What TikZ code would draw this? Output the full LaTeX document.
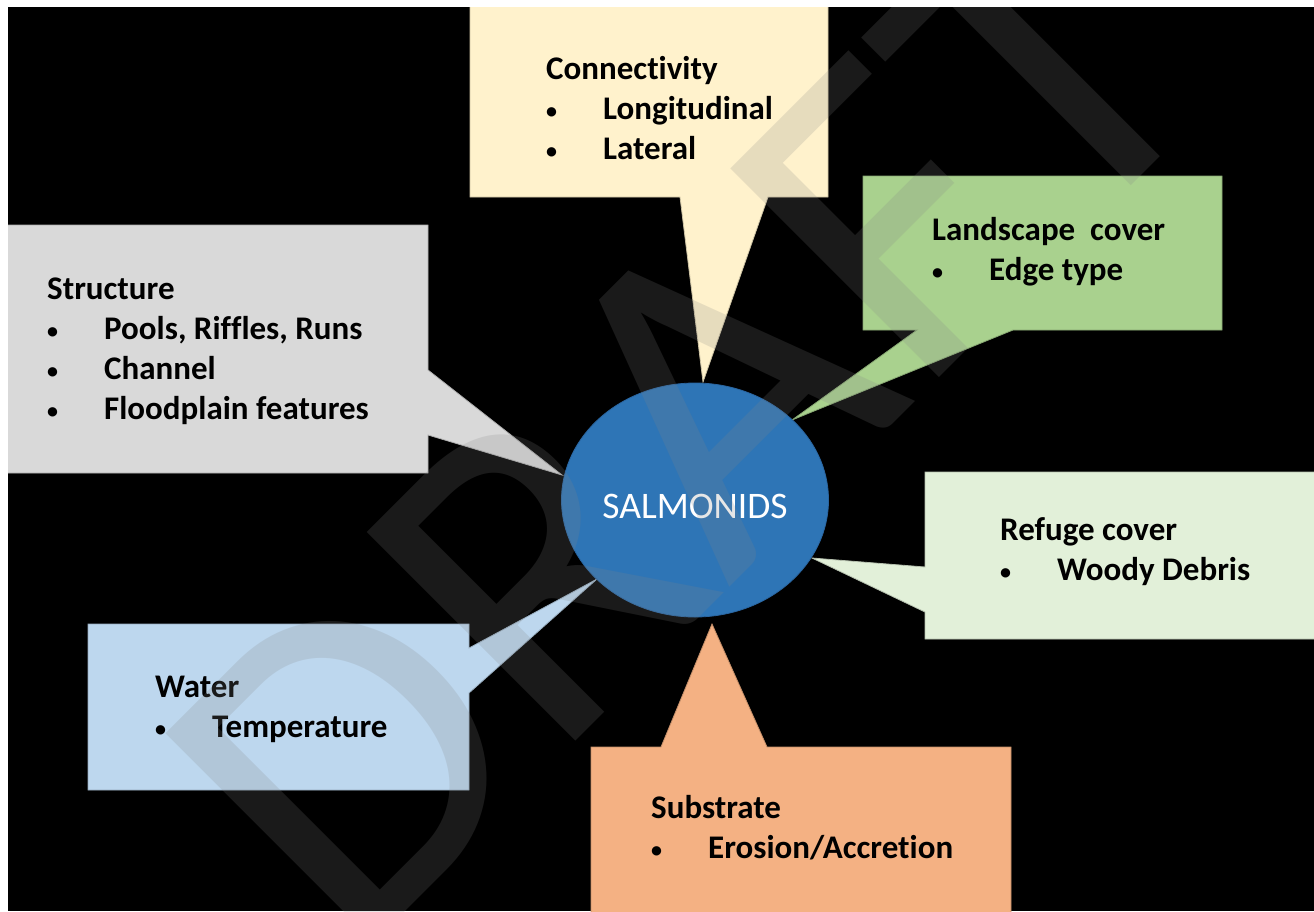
\documentclass[tikz,border=0pt]{standalone}
\usepackage{fontspec}
\setmainfont{Carlito}[Ligatures=NoCommon]
\usetikzlibrary{shapes.geometric}
\definecolor{cyellow}{HTML}{FFF2CC}
\definecolor{cgreen}{HTML}{A9D18E}
\definecolor{cgray}{HTML}{D9D9D9}
\definecolor{cpale}{HTML}{E2F0D9}
\definecolor{cblue}{HTML}{BDD7EE}
\definecolor{corange}{HTML}{F4B183}
\definecolor{csal}{HTML}{2E75B6}
\definecolor{csalb}{HTML}{2A65A0}
\definecolor{wmgray}{RGB}{132,132,132}
\newcommand{\mybul}[1]{\makebox[57pt][l]{\raisebox{1pt}{\fontsize{22}{22}\selectfont\textbullet}}#1}
\tikzset{
  callout/.style={line width=0.8pt, line join=miter},
  lbl/.style={anchor=north west, inner sep=0pt, align=left, text=black,
    font=\bfseries\fontsize{33}{40}\selectfont},
}
\begin{document}
\begin{tikzpicture}[x=1pt,y=-1pt]
\useasboundingbox (0,0) rectangle (1314,911);
\fill[white] (0,0) rectangle (1314,911);
\fill[black] (8,7) rectangle (1314,911);
\begin{scope}
\clip (8,7) rectangle (1314,911);
% tips of the callouts
\coordinate (tC) at (703,382);
\coordinate (tL) at (792,420);
\coordinate (tS) at (562,475);
\coordinate (tR) at (812,558);
\coordinate (tW) at (597,579);
\coordinate (tB) at (712,624);
% callout shapes
\filldraw[callout, fill=cyellow, draw=cyellow!80!black] (470,0) -- (828,0) -- (828,197) -- (768,197) -- (tC) -- (680,197) -- (470,197) -- cycle;
\filldraw[callout, fill=cgreen, draw=cgreen!80!black] (863,176) -- (1222,176) -- (1222,330) -- (1013,330) -- (tL) -- (917,330) -- (863,330) -- cycle;
\filldraw[callout, fill=cgray, draw=cgray!80!black] (0,225) -- (428,225) -- (428,370) -- (tS) -- (428,435) -- (428,473) -- (0,473) -- cycle;
\filldraw[callout, fill=cpale, draw=cpale!80!black] (925,472) -- (1330,472) -- (1330,639) -- (925,639) -- (925,612) -- (tR) -- (925,567) -- cycle;
\filldraw[callout, fill=cblue, draw=cblue!80!black] (88,624) -- (469,624) -- (469,648) -- (tW) -- (469,693) -- (469,790) -- (88,790) -- cycle;
\filldraw[callout, fill=corange, draw=corange!80!black] (591,747) -- (661,747) -- (tB) -- (767,747) -- (1011,747) -- (1011,930) -- (591,930) -- cycle;
% central ellipse
\node[ellipse, minimum width=267pt, minimum height=234pt, inner sep=0pt, fill=csal, draw=csalb, line width=0.8pt] (sal) at (695,500) {};
\node[text=white, inner sep=0pt, font=\fontsize{37.5}{45}\selectfont] (saltxt) at (695,506) {SALMONIDS};
% texts
\node[lbl] (conn) at (546,51) {\strut Connectivity\\\mybul{Longitudinal}\\\mybul{Lateral}};
\node[lbl] (land) at (932,212) {\strut Landscape\ \ cover\\\mybul{Edge type}};
\node[lbl] (struc) at (47,271) {\strut Structure\\\mybul{Pools, Riffles, Runs}\\\mybul{Channel}\\\mybul{Floodplain features}};
\node[lbl] (refuge) at (1000,512) {\strut Refuge cover\\\mybul{Woody Debris}};
\node[lbl] (water) at (155,669) {\strut Water\\\mybul{Temperature}};
\node[lbl] (subs) at (651,790) {\strut Substrate\\\mybul{Erosion/Accretion}};
% watermark
\node[text=wmgray, opacity=0.2, rotate=45, anchor=base west, inner sep=0pt,
  font=\fontsize{460}{460}\selectfont] (wm) at (352,965) {DRAFT};
\end{scope}
\end{tikzpicture}
\end{document}
